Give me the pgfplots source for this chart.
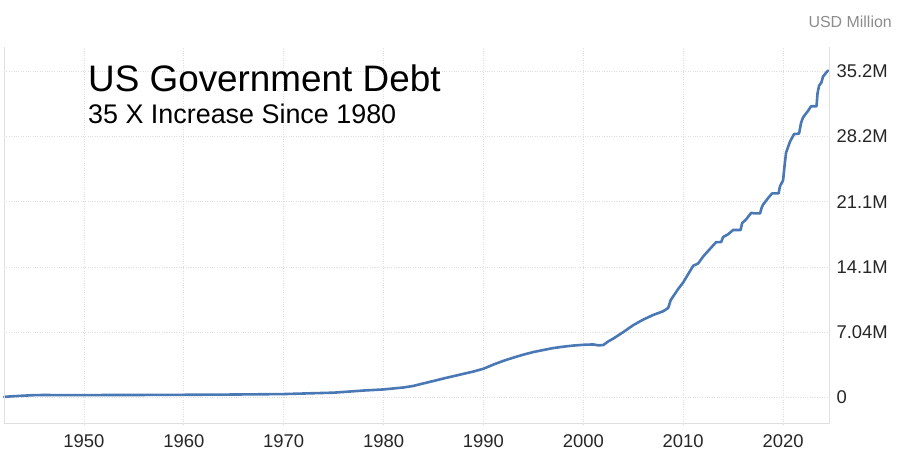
\documentclass[border=0pt]{standalone}
\usepackage{pgfplots}
\pgfplotsset{compat=1.18}
\usepackage{fontspec}
\setmainfont{Liberation Sans}
\definecolor{debtblue}{HTML}{4A78B5}
\definecolor{gridc}{HTML}{DEDEDE}
\definecolor{axc}{HTML}{E0E0E0}
\definecolor{tickc}{HTML}{262626}
\definecolor{unitc}{HTML}{8C8C8C}
\begin{document}
\begin{tikzpicture}[x=1bp,y=1bp]
\useasboundingbox (0,0) rectangle (900,464);
\begin{axis}[
  at={(4bp,40bp)}, anchor=south west,
  width=825bp, height=377bp, scale only axis,
  xmin=1942.0, xmax=2024.6,
  ymin=-2.857, ymax=37.79,
  axis line style={draw=none},
  xtick={1950,1960,1970,1980,1990,2000,2010,2020},
  xticklabels={1950,1960,1970,1980,1990,2000,2010,2020},
  ytick={0,7.04,14.08,21.12,28.16,35.2},
  yticklabels={0,7.04M,14.1M,21.1M,28.2M,35.2M},
  yticklabel pos=right,
  major tick length=0pt,
  tick style={draw=none},
  grid=major,
  major grid style={gridc, dotted, line width=0.8bp},
  tick label style={font=\fontsize{18.5}{20}\selectfont, text=tickc},
  /pgf/number format/assume math mode=true,
  xticklabel style={yshift=-7bp},
  yticklabel style={xshift=4bp, anchor=west},
  clip=false,
]
\addplot[debtblue, line width=2.6bp, line join=round, line cap=round] coordinates {
(1942.0,0.07) (1943.0,0.14) (1944.0,0.20) (1945.0,0.25) (1946.0,0.27)
(1947.0,0.26) (1950,0.26) (1955,0.27) (1960,0.29) (1965,0.32)
(1970,0.37) (1975,0.52) (1978,0.75) (1980,0.87) (1982,1.08)
(1983,1.25) (1984,1.52) (1985,1.78) (1986,2.05) (1987,2.30)
(1988,2.55) (1989,2.80) (1990,3.10) (1991,3.55) (1992,3.95)
(1993,4.30) (1994,4.62) (1995,4.90) (1996,5.12) (1997,5.33)
(1998,5.48) (1999,5.60) (2000,5.68) (2001,5.72) (2001.5,5.62)
(2002,5.66) (2002.5,6.05) (2003,6.35) (2004,7.05) (2005,7.80)
(2006,8.40) (2007,8.90) (2008,9.30) (2008.5,9.65) (2008.75,10.50)
(2009,10.90) (2009.5,11.70) (2010,12.40) (2010.5,13.30) (2011,14.20)
(2011.5,14.45) (2012,15.20) (2012.5,15.80) (2013,16.40) (2013.3,16.75)
(2013.8,16.75) (2014,17.30) (2014.5,17.60) (2015,18.06) (2015.75,18.06)
(2015.9,18.80) (2016.3,19.20) (2016.8,19.90) (2017.2,19.85) (2017.7,19.85)
(2017.85,20.45) (2018,20.80) (2018.5,21.50) (2018.9,22.00) (2019.55,22.00)
(2019.7,22.80) (2020.0,23.40) (2020.15,25.00) (2020.3,26.40) (2020.7,27.60)
(2021.1,28.40) (2021.6,28.45) (2021.8,29.60) (2022.0,30.20) (2022.5,30.90)
(2022.8,31.40) (2023.35,31.40) (2023.45,32.80) (2023.6,33.60) (2023.85,34.00)
(2024.0,34.60) (2024.3,35.00) (2024.5,35.25)
};
\draw[axc, line width=1bp] (rel axis cs:0,1) -- (rel axis cs:0,0) -- (rel axis cs:1,0) -- (rel axis cs:1,1);
\end{axis}
\node[anchor=base west, inner sep=0pt] at (88,372) {\fontsize{37}{40}\selectfont US Government Debt};
\node[anchor=base west, inner sep=0pt] at (88,340) {\fontsize{27}{30}\selectfont 35 X Increase Since 1980};
\node[anchor=base east, inner sep=0pt, text=unitc] at (892,436) {\fontsize{16}{18}\selectfont USD Million};
\end{tikzpicture}
\end{document}
